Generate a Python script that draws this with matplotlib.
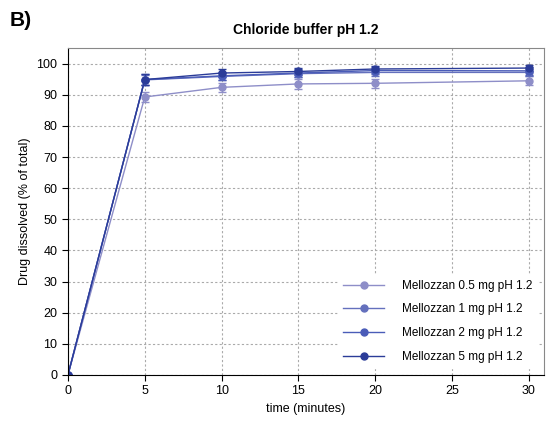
import matplotlib
matplotlib.use("Agg")
import matplotlib.pyplot as plt
from matplotlib.lines import Line2D

plt.rcParams["font.family"] = ["Liberation Sans", "DejaVu Sans"]

time_min = [0, 5, 10, 15, 20, 30]
labels = ["Mellozzan 0.5 mg pH 1.2", "Mellozzan 1 mg pH 1.2",
          "Mellozzan 2 mg pH 1.2", "Mellozzan 5 mg pH 1.2"]
dose_05 = [0, 89.3, 92.4, 93.5, 93.7, 94.5]
dose_1 = [0, 94.8, 95.9, 96.8, 97.2, 97.2]
dose_2 = [0, 94.9, 96.1, 97.0, 97.8, 97.7]
dose_5 = [0, 94.9, 97.0, 97.5, 98.3, 98.6]
err_05 = [0, 1.5, 1.5, 1.5, 1.5, 1.5]
err_1 = [0, 1.5, 1.2, 1.2, 1.2, 1.2]
err_2 = [0, 1.8, 1.2, 1.2, 1.2, 1.2]
err_5 = [0, 1.8, 1.2, 1.2, 1.0, 1.0]
colors = ["#8e8ec8", "#6470bd", "#4a5cb8", "#2b3c98"]

fig = plt.figure(figsize=(5.57, 4.26), dpi=100)
ax = fig.add_axes([0.122, 0.12, 0.855, 0.767])

series = [dose_05, dose_1, dose_2, dose_5]
errs = [err_05, err_1, err_2, err_5]
handles = []
for vals, err, col, lab in zip(series, errs, colors, labels):
    ax.errorbar(time_min, vals, yerr=err, color=col, marker="o", markersize=5,
                lw=1.0, capsize=3, elinewidth=1.0)
    handles.append(Line2D([], [], color=col, marker="o", markersize=5, lw=1.0, label=lab))

ax.set_xlim(0, 31)
ax.set_ylim(0, 105)
ax.set_xticks([0, 5, 10, 15, 20, 25, 30])
ax.set_yticks(range(0, 101, 10))
ax.tick_params(labelsize=9, direction="out", length=4)
ax.grid(True, color="#aaaaaa", linestyle=(0, (2, 2)), lw=0.8)
ax.set_axisbelow(True)
for side in ["top", "right"]:
    ax.spines[side].set_color("#888888")
ax.set_xlabel("time (minutes)", fontsize=9)
ax.set_ylabel("Drug dissolved (% of total)", fontsize=9)
ax.set_title("Chloride buffer pH 1.2", fontsize=10, fontweight="bold", pad=10)

ax.legend(handles=handles, loc="lower right", fontsize=8.5, frameon=True, framealpha=1,
          edgecolor="white", fancybox=False, handlelength=3.5, handletextpad=1.5,
          borderaxespad=0.6, labelspacing=1.0)

fig.text(0.018, 0.94, "B)", fontsize=15, fontweight="bold")

fig.savefig("out.png", dpi=100)
